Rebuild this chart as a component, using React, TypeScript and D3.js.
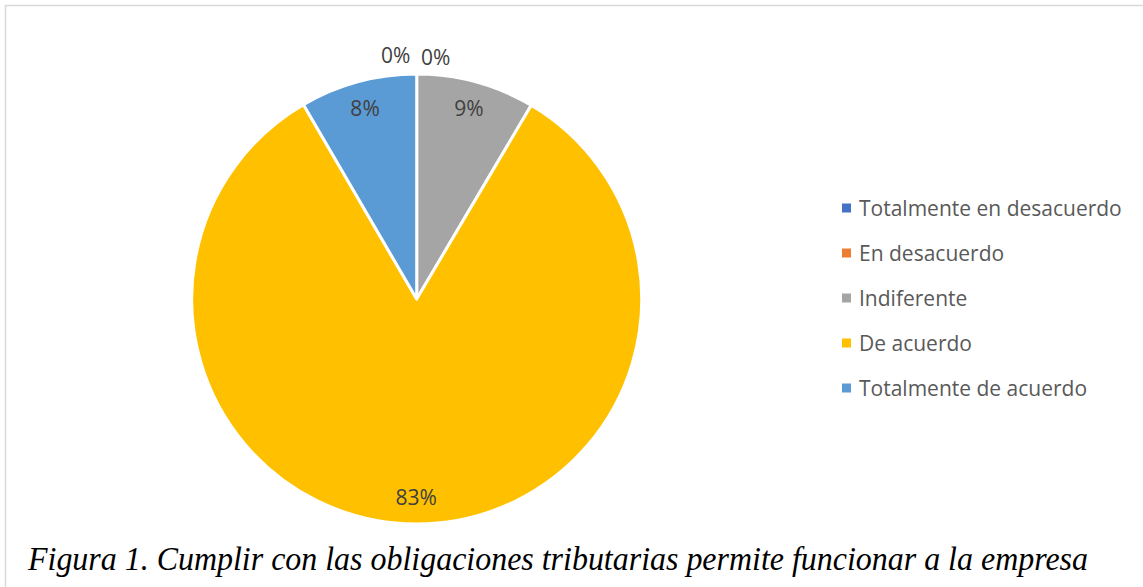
import React, { useEffect, useRef } from "react";
import * as d3 from "d3";

const categories = [
  "Totalmente en desacuerdo",
  "En desacuerdo",
  "Indiferente",
  "De acuerdo",
  "Totalmente de acuerdo",
];
const values = [0, 0, 8.5, 83.1, 8.4];
const colors = ["#4472C4", "#ED7D31", "#A5A5A5", "#FFC000", "#5B9BD5"];
const caption =
  "Figura 1. Cumplir con las obligaciones tributarias permite funcionar a la empresa";

const W = 1143;
const H = 587;
const CX = 416.7;
const CY = 299;
const R = 225;

export default function App() {
  const ref = useRef<SVGSVGElement>(null);

  useEffect(() => {
    const svg = d3.select(ref.current);
    svg.selectAll("*").remove();

    // frame
    svg
      .append("path")
      .attr("d", `M5.5,${H} L5.5,5.5 L${W},5.5`)
      .attr("fill", "none")
      .attr("stroke", "#d9d9d9")
      .attr("stroke-width", 1.5);

    const total = d3.sum(values);
    const data = categories.map((c, i) => ({ c, v: values[i], color: colors[i] }));
    const pie = d3
      .pie<any>()
      .sort(null)
      .value((d: any) => d.v);
    const arcs = pie(data);
    const arc = d3.arc<any>().innerRadius(0).outerRadius(R);
    const labelArc = d3.arc<any>().innerRadius(R * 0.88).outerRadius(R * 0.88);

    const g = svg.append("g").attr("transform", `translate(${CX},${CY})`);
    g.selectAll("path.slice")
      .data(arcs)
      .enter()
      .append("path")
      .attr("class", "slice")
      .attr("d", arc as any)
      .attr("fill", (d: any) => d.data.color)
      .attr("stroke", "#ffffff")
      .attr("stroke-width", 3)
      .attr("stroke-linejoin", "round");

    let zeroIdx = 0;
    const zeroOffsets = [-21, 19];
    const zeroDy = [-244, -242];
    arcs.forEach((a: any) => {
      const pct = Math.round((a.data.v / total) * 100) + "%";
      let x: number, y: number;
      if (a.data.v === 0) {
        x = zeroOffsets[zeroIdx] ?? 0;
        y = zeroDy[zeroIdx] ?? -244;
        zeroIdx++;
      } else {
        [x, y] = labelArc.centroid(a);
      }
      g.append("text")
        .attr("x", x)
        .attr("y", y)
        .attr("text-anchor", "middle")
        .attr("dominant-baseline", "central")
        .attr("font-family", "'Open Sans', sans-serif")
        .attr("font-size", 21)
        .attr("fill", "#404040")
        .text(pct);
    });

    // legend
    const lg = svg.append("g").attr("transform", "translate(842,208)");
    data.forEach((d, i) => {
      const row = lg.append("g").attr("transform", `translate(0,${i * 45})`);
      row
        .append("rect")
        .attr("x", 0)
        .attr("y", -4.5)
        .attr("width", 9)
        .attr("height", 9)
        .attr("fill", d.color);
      row
        .append("text")
        .attr("x", 17)
        .attr("y", 0)
        .attr("dominant-baseline", "central")
        .attr("font-family", "'Open Sans', sans-serif")
        .attr("font-size", 21)
        .attr("fill", "#595959")
        .text(d.c);
    });

    // caption
    svg
      .append("text")
      .attr("x", 28)
      .attr("y", 570)
      .attr("font-family", "'Liberation Serif', 'Times New Roman', serif")
      .attr("font-style", "italic")
      .attr("font-size", 33)
      .attr("fill", "#000")
      .attr("textLength", 1060)
      .attr("lengthAdjust", "spacingAndGlyphs")
      .text(caption);
  }, []);

  return (
    <svg
      ref={ref}
      width={W}
      height={H}
      style={{ position: "absolute", left: 0, top: 0, background: "#fff" }}
    />
  );
}
